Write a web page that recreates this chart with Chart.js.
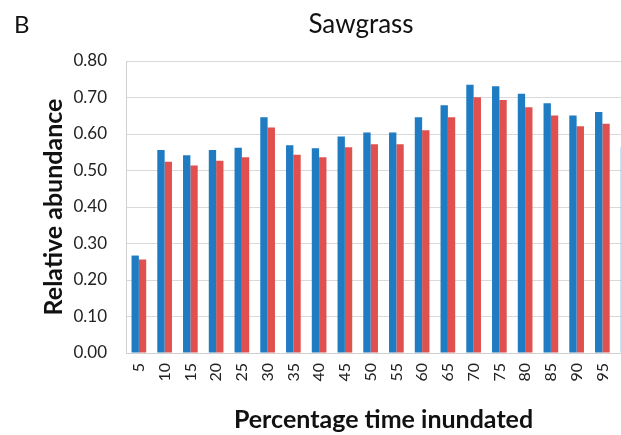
<!DOCTYPE html>
<html>
<head>
<meta charset="utf-8">
<script src="https://cdn.jsdelivr.net/npm/chart.js@4/dist/chart.umd.min.js"></script>
<style>
  html, body { margin: 0; padding: 0; background: #fff; overflow: hidden; }
  #wrap { width: 722px; height: 435px; }
</style>
</head>
<body>
<div id="wrap"><canvas id="sawgrass-chart"></canvas></div>
<script>
// 카테고리 (percentage time inundated)
var categories = ['5', '10', '15', '20', '25', '30', '35', '40', '45', '50',
                  '55', '60', '65', '70', '75', '80', '85', '90', '95', '100'];
// 파랑 / 빨강 시리즈
var blueValues = [0.267, 0.556, 0.542, 0.556, 0.562, 0.646, 0.569, 0.561, 0.593, 0.604,
                  0.604, 0.646, 0.679, 0.735, 0.731, 0.710, 0.684, 0.651, 0.660, 0.564];
var redValues  = [0.256, 0.524, 0.514, 0.527, 0.536, 0.618, 0.543, 0.536, 0.564, 0.572,
                  0.572, 0.610, 0.646, 0.701, 0.693, 0.673, 0.651, 0.621, 0.628, 0.535];
var yTicks = [0, 0.1, 0.2, 0.3, 0.4, 0.5, 0.6, 0.7, 0.8];

var FONT = 'Lato, "Open Sans", sans-serif';

// 패널 글자 "B" 와 제목
var headerPlugin = {
    id: 'header',
    afterDraw: function (chart) {
        var ctx = chart.ctx;
        ctx.save();
        ctx.fillStyle = '#111';
        ctx.textBaseline = 'middle';
        ctx.font = '24px ' + FONT;
        ctx.textAlign = 'left';
        ctx.fillText('B', 14, 25);
        ctx.font = '26px ' + FONT;
        ctx.textAlign = 'center';
        ctx.fillText('Sawgrass', 361, 25);
        ctx.restore();
    }
};

new Chart(document.getElementById('sawgrass-chart'), {
    type: 'bar',
    data: {
        labels: categories,
        datasets: [
            { label: 'Series 1', data: blueValues, backgroundColor: '#1f7bc2' },
            { label: 'Series 2', data: redValues, backgroundColor: '#e0504f' }
        ]
    },
    options: {
        responsive: true,
        maintainAspectRatio: false,
        animation: false,
        layout: { padding: { top: 61, right: 81, left: 37, bottom: 0 } },
        datasets: { bar: { categoryPercentage: 0.57, barPercentage: 1.0 } },
        plugins: {
            legend: { display: false },
            title: { display: false },
            tooltip: { enabled: false }
        },
        scales: {
            x: {
                grid: { display: false, drawTicks: false },
                border: { color: '#d0d0d0' },
                ticks: {
                    minRotation: 90, maxRotation: 90, padding: 10,
                    color: '#222', font: { family: FONT, size: 16 }
                },
                title: {
                    display: true, text: 'Percentage time inundated',
                    color: '#111', font: { family: FONT, size: 25, weight: 'bold' },
                    padding: { top: 4, bottom: 0 }
                },
                afterFit: function (scale) { scale.height = 82; }
            },
            y: {
                min: 0, max: 0.8,
                afterBuildTicks: function (scale) {
                    scale.ticks = yTicks.map(function (v) { return { value: v }; });
                },
                grid: { color: '#d9d9d9', drawTicks: false },
                border: { color: '#d0d0d0' },
                ticks: {
                    padding: 19, color: '#222', font: { family: FONT, size: 17 },
                    callback: function (v) { return v.toFixed(2); }
                },
                title: {
                    display: true, text: 'Relative abundance',
                    color: '#111', font: { family: FONT, size: 25, weight: 'bold' },
                    padding: { top: 2, bottom: 0 }
                },
                afterFit: function (scale) { scale.width = 126 - 37; }
            }
        }
    },
    plugins: [headerPlugin]
});
</script>
</body>
</html>
